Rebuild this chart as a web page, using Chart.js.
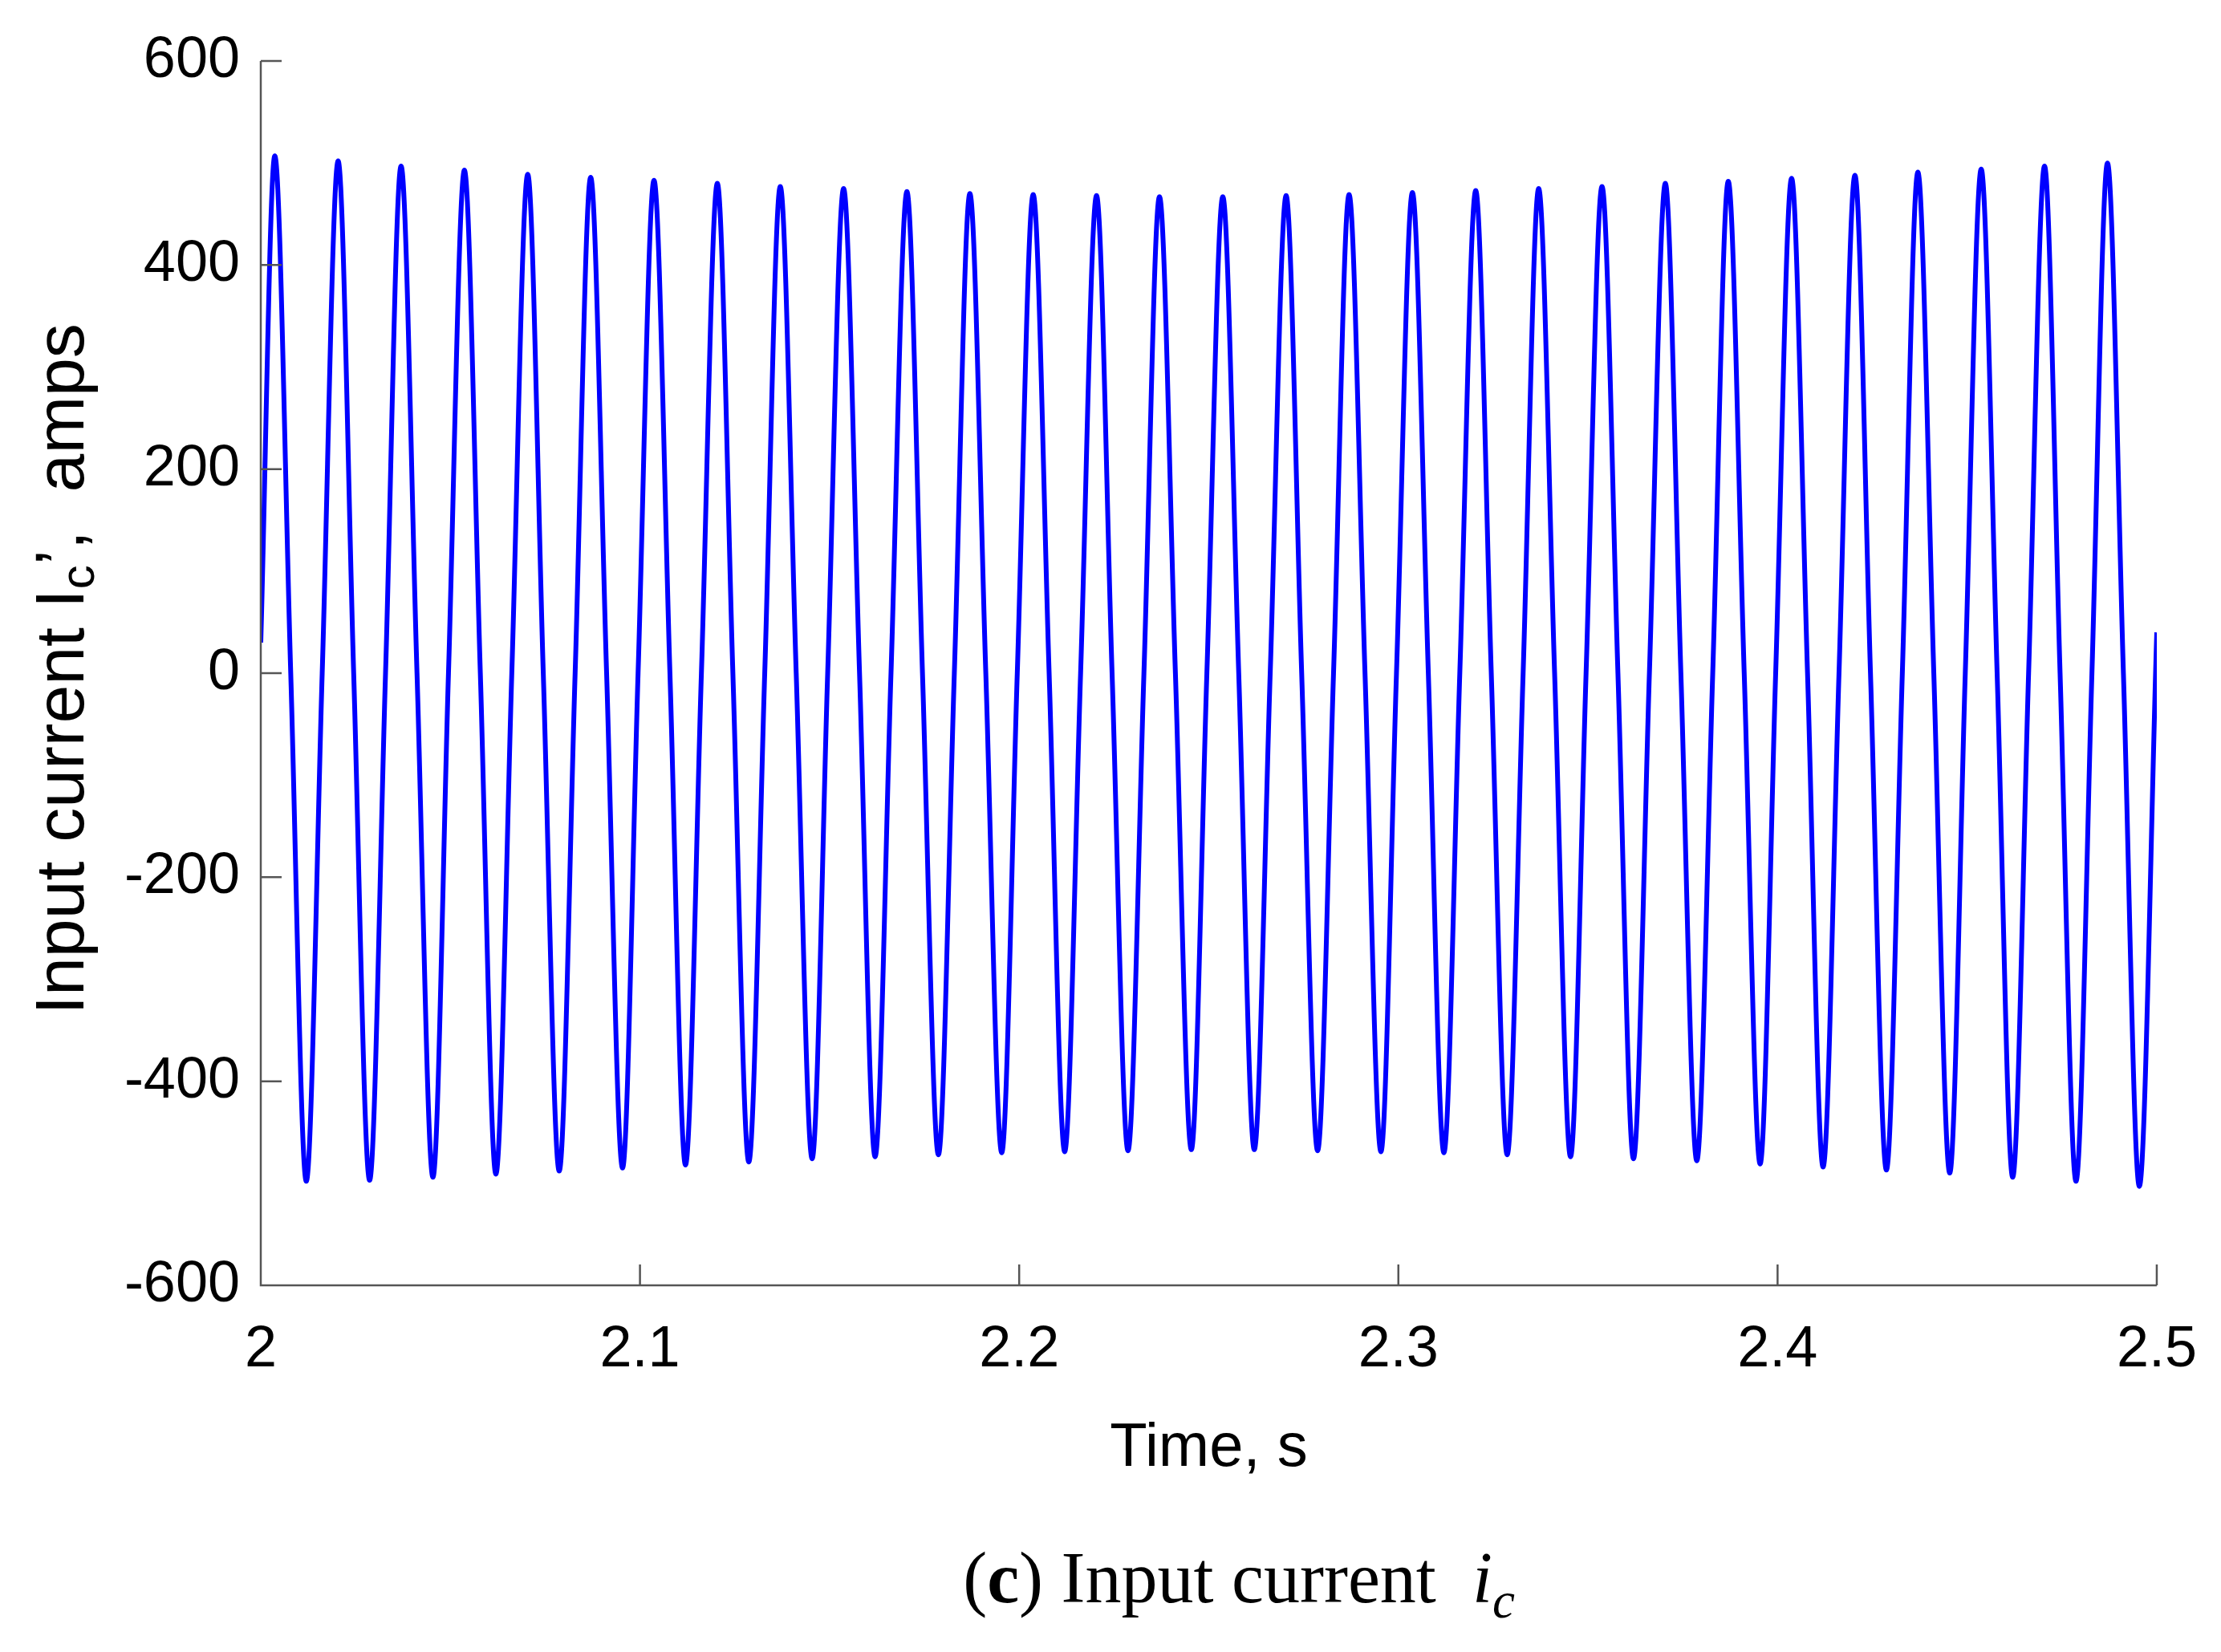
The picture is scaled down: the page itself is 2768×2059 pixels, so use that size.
<!DOCTYPE html>
<html>
<head>
<meta charset="utf-8">
<script src="https://cdn.jsdelivr.net/npm/chart.js@4"></script>
<style>
  body { margin: 0; background: #fff; width: 2768px; height: 2059px; overflow: hidden; }
  #wrap { position: absolute; left: 0; top: 0; width: 2768px; height: 1900px; }
  #caption { position: absolute; left: 1544px; transform: translateX(-50%); top: 1915px; white-space: nowrap;
             font-family: "Liberation Serif", "DejaVu Serif", serif; font-size: 90px; color: #000; }
  #caption i sub { font-size: 0.7em; }
</style>
</head>
<body>
<div id="wrap"><canvas id="c"></canvas></div>
<div id="caption">(<b>c</b>) Input current &nbsp;<i>i<sub>c</sub></i></div>
<script>
// points: start, then per cycle peak / zero / trough / zero
const times = [
  2.0000,
  2.0037, 2.0079, 2.0120, 2.0162,
  2.0204, 2.0245, 2.0287, 2.0329,
  2.0370, 2.0412, 2.0454, 2.0495,
  2.0537, 2.0579, 2.0620, 2.0662,
  2.0704, 2.0745, 2.0787, 2.0829,
  2.0870, 2.0912, 2.0954, 2.0995,
  2.1037, 2.1079, 2.1120, 2.1162,
  2.1204, 2.1245, 2.1287, 2.1329,
  2.1370, 2.1412, 2.1454, 2.1495,
  2.1537, 2.1579, 2.1620, 2.1662,
  2.1704, 2.1745, 2.1787, 2.1829,
  2.1870, 2.1912, 2.1954, 2.1995,
  2.2037, 2.2079, 2.2120, 2.2162,
  2.2204, 2.2245, 2.2287, 2.2329,
  2.2370, 2.2412, 2.2454, 2.2495,
  2.2537, 2.2579, 2.2620, 2.2662,
  2.2704, 2.2745, 2.2787, 2.2829,
  2.2870, 2.2912, 2.2954, 2.2995,
  2.3037, 2.3079, 2.3120, 2.3162,
  2.3204, 2.3245, 2.3287, 2.3329,
  2.3370, 2.3412, 2.3454, 2.3495,
  2.3537, 2.3579, 2.3620, 2.3662,
  2.3704, 2.3745, 2.3787, 2.3829,
  2.3870, 2.3912, 2.3954, 2.3995,
  2.4037, 2.4079, 2.4120, 2.4162,
  2.4204, 2.4245, 2.4287, 2.4329,
  2.4370, 2.4412, 2.4454, 2.4495,
  2.4537, 2.4579, 2.4620, 2.4662,
  2.4704, 2.4745, 2.4787, 2.4829,
  2.4870, 2.4912, 2.4954, 2.5000
];
const current = [
  30,
  507, 0, -498, 0,
  502, 0, -497, 0,
  497, 0, -494, 0,
  493, 0, -491, 0,
  489, 0, -488, 0,
  486, 0, -485, 0,
  483, 0, -482, 0,
  480, 0, -479, 0,
  477, 0, -476, 0,
  475, 0, -474, 0,
  472, 0, -472, 0,
  470, 0, -470, 0,
  469, 0, -469, 0,
  468, 0, -468, 0,
  467, 0, -467, 0,
  467, 0, -467, 0,
  468, 0, -468, 0,
  469, 0, -469, 0,
  471, 0, -470, 0,
  473, 0, -472, 0,
  475, 0, -474, 0,
  477, 0, -476, 0,
  480, 0, -478, 0,
  482, 0, -481, 0,
  485, 0, -484, 0,
  488, 0, -487, 0,
  491, 0, -490, 0,
  494, 0, -494, 0,
  497, 0, -498, 0,
  500, 0, -503, 40
];
const xTicks = [2, 2.1, 2.2, 2.3, 2.4, 2.5];
const yTicks = [-600, -400, -200, 0, 200, 400, 600];

const tickFont = { family: 'Liberation Sans, Arial, sans-serif', size: 72 };

const decor = {
  id: 'decor',
  afterDraw(chart) {
    const { ctx, chartArea: a, scales: { x, y } } = chart;
    ctx.save();
    ctx.strokeStyle = '#555';
    ctx.lineWidth = 2.5;
    ctx.beginPath();
    ctx.moveTo(a.left, a.top); ctx.lineTo(a.left, a.bottom); ctx.lineTo(a.right, a.bottom);
    xTicks.forEach(v => { const px = x.getPixelForValue(v); ctx.moveTo(px, a.bottom); ctx.lineTo(px, a.bottom - 26); });
    yTicks.forEach(v => { const py = y.getPixelForValue(v); ctx.moveTo(a.left, py); ctx.lineTo(a.left + 26, py); });
    ctx.stroke();

    ctx.fillStyle = '#000';
    ctx.font = '76px "Liberation Sans", Arial, sans-serif';
    ctx.textAlign = 'center';
    ctx.textBaseline = 'middle';
    ctx.fillText('Time, s', (a.left + a.right) / 2, 1806);

    // y title with subscript
    ctx.translate(80, 834);
    ctx.rotate(-Math.PI / 2);
    const p1 = 'Input current I', p2 = 'c', p3 = '\u2019,  amps';
    const big = '86px "Liberation Sans", Arial, sans-serif', small = '60px "Liberation Sans", Arial, sans-serif';
    ctx.font = big; const w1 = ctx.measureText(p1).width, w3 = ctx.measureText(p3).width;
    ctx.font = small; const w2 = ctx.measureText(p2).width;
    let sx = -(w1 + w2 + w3) / 2;
    ctx.textAlign = 'left';
    ctx.font = big; ctx.fillText(p1, sx, 0); sx += w1;
    ctx.font = small; ctx.fillText(p2, sx, 20); sx += w2;
    ctx.font = big; ctx.fillText(p3, sx, 0);
    ctx.restore();
  }
};

new Chart(document.getElementById('c'), {
  type: 'line',
  data: {
    datasets: [{
      data: times.map((t, i) => ({ x: t, y: current[i] })),
      borderColor: '#0000ff',
      borderWidth: 6,
      pointRadius: 0,
      cubicInterpolationMode: 'monotone',
      fill: false,
    }],
  },
  options: {
    responsive: true,
    maintainAspectRatio: false,
    animation: false,
    layout: { padding: { left: 20, right: 71, top: 76, bottom: 0 } },
    plugins: { legend: { display: false }, tooltip: { enabled: false } },
    scales: {
      x: {
        type: 'linear', min: 2, max: 2.5,
        afterBuildTicks: s => { s.ticks = xTicks.map(v => ({ value: v })); },
        afterFit: s => { s.height = 298; },
        border: { display: false },
        grid: { display: false },
        ticks: { color: '#000', font: tickFont, padding: 30, callback: v => String(+v.toFixed(1)) },
      },
      y: {
        min: -600, max: 600,
        afterBuildTicks: s => { s.ticks = yTicks.map(v => ({ value: v })); },
        afterFit: s => { s.width = 305; },
        border: { display: false },
        grid: { display: false },
        ticks: { color: '#000', font: tickFont, padding: 18 },
      },
    },
  },
  plugins: [decor],
});
</script>
</body>
</html>
